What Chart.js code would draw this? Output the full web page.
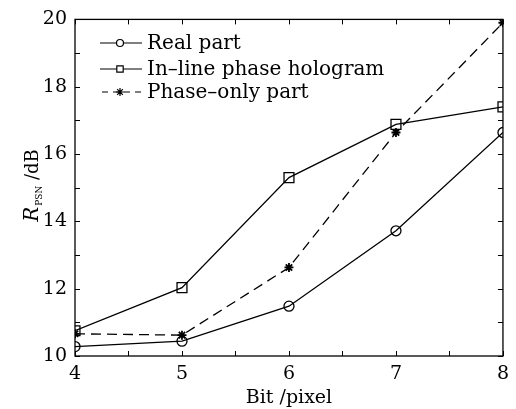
<!DOCTYPE html>
<html>
<head>
<meta charset="utf-8">
<script src="https://cdn.jsdelivr.net/npm/chart.js@4/dist/chart.umd.min.js"></script>
<style>
  html, body { margin: 0; padding: 0; background: #fff; }
  #wrap { width: 516px; height: 409px; }
</style>
</head>
<body>
<div id="wrap"><canvas id="psnChart" width="516" height="409"></canvas></div>
<script>
// values
const bits = [4, 5, 6, 7, 8];
const realPart = [10.28, 10.44, 11.48, 13.72, 16.64];
const inlineHologram = [10.75, 12.03, 15.3, 16.88, 17.4];
const phaseOnly = [10.66, 10.62, 12.63, 16.64, 19.9];
const seriesNames = ["Real part", "In\u2013line phase hologram", "Phase\u2013only part"];

const FONT = "'DejaVu Serif', 'Liberation Serif', serif";

function toPoints(vals) {
  return bits.map((b, i) => ({x: b, y: vals[i]}));
}

// inward ticks on all four sides, minor ticks every 0.5 on x and every 1 on y
const frameTicks = {
  id: "frameTicks",
  afterDatasetsDraw(chart) {
    const {ctx, chartArea: a, scales: {x, y}} = chart;
    ctx.save();
    ctx.strokeStyle = "#000";
    ctx.lineWidth = 1;
    const len = 5;
    for (let v = 4; v <= 8.001; v += 0.5) {
      const px = Math.round(x.getPixelForValue(v)) + 0.5;
      ctx.beginPath();
      ctx.moveTo(px, a.bottom); ctx.lineTo(px, a.bottom - len);
      ctx.moveTo(px, a.top); ctx.lineTo(px, a.top + len);
      ctx.stroke();
    }
    for (let v = 10; v <= 20.001; v += 1) {
      const py = Math.round(y.getPixelForValue(v)) + 0.5;
      ctx.beginPath();
      ctx.moveTo(a.left, py); ctx.lineTo(a.left + len, py);
      ctx.moveTo(a.right, py); ctx.lineTo(a.right - len, py);
      ctx.stroke();
    }
    ctx.lineWidth = 1.3;
    ctx.strokeRect(a.left, a.top, a.right - a.left, a.bottom - a.top);
    ctx.restore();
  }
};

// legend with line + small marker, and the y title with its subscript
const legendMarks = [3.5, 4.5, 4];
const extras = {
  id: "extras",
  afterDraw(chart) {
    const ctx = chart.ctx;
    ctx.save();
    const rows = [43, 69, 92];
    chart.data.datasets.forEach((ds, i) => {
      const yy = rows[i];
      ctx.strokeStyle = "#000";
      ctx.lineWidth = 1.2;
      ctx.setLineDash(ds.borderDash ? [6, 5] : []);
      ctx.beginPath();
      ctx.moveTo(ds.borderDash ? 102 : 100, yy); ctx.lineTo(142, yy);
      ctx.stroke();
      ctx.setLineDash([]);
      ctx.fillStyle = "#fff";
      Chart.helpers.drawPoint(ctx, {
        pointStyle: ds.pointStyle, radius: legendMarks[i], borderWidth: 1.4
      }, 120, yy);
      ctx.fillStyle = "#000";
      ctx.font = "20px " + FONT;
      ctx.textBaseline = "middle";
      ctx.textAlign = "left";
      ctx.fillText(ds.label, 147, yy + 1);
    });

    // y title: R_PSN /dB, rotated
    ctx.translate(30, 186);
    ctx.rotate(-Math.PI / 2);
    ctx.textBaseline = "alphabetic";
    ctx.textAlign = "left";
    ctx.font = "italic 20px " + FONT;
    const w1 = ctx.measureText("R").width;
    ctx.font = "9px " + FONT;
    const w2 = ctx.measureText("PSN").width;
    ctx.font = "18px " + FONT;
    const w3 = ctx.measureText(" /dB").width;
    let sx = -(w1 + w2 + w3) / 2;
    ctx.font = "italic 20px " + FONT;
    ctx.fillText("R", sx, 8);
    sx += w1;
    ctx.font = "9px " + FONT;
    ctx.fillText("PSN", sx + 1, 12);
    sx += w2 + 1;
    ctx.font = "18px " + FONT;
    ctx.fillText(" /dB", sx, 8);
    ctx.restore();
  }
};

const ctx = document.getElementById("psnChart");
const data = {
  datasets: [
    {
      label: seriesNames[0],
      data: toPoints(realPart),
      borderColor: "#000",
      backgroundColor: "rgba(0,0,0,0)",
      borderWidth: 1.3,
      pointStyle: "circle",
      pointRadius: 5,
      pointBorderWidth: 1.3,
      tension: 0,
    },
    {
      label: seriesNames[1],
      data: toPoints(inlineHologram),
      borderColor: "#000",
      backgroundColor: "rgba(0,0,0,0)",
      borderWidth: 1.3,
      pointStyle: "rect",
      pointRadius: 7,
      pointBorderWidth: 1.3,
      tension: 0,
    },
    {
      label: seriesNames[2],
      data: toPoints(phaseOnly),
      borderColor: "#000",
      backgroundColor: "rgba(0,0,0,0)",
      borderWidth: 1.3,
      borderDash: [10, 6],
      pointStyle: "star",
      pointRadius: 4.5,
      pointBorderWidth: 1.8,
      tension: 0,
    },
  ],
};
const options = {
  responsive: false,
  animation: false,
  layout: {padding: {top: 18, right: 11, left: 0, bottom: 0}},
  scales: {
    x: {
      type: "linear",
      min: 4,
      max: 8,
      grid: {display: false, drawTicks: false},
      border: {display: false},
      ticks: {
        stepSize: 1,
        color: "#000",
        padding: 7,
        font: {family: FONT, size: 19},
      },
      title: {
        display: true,
        text: "Bit /pixel",
        color: "#000",
        padding: {top: -1, bottom: 0},
        font: {family: FONT, size: 19},
      },
      afterFit(scale) { scale.height = 53; },
    },
    y: {
      min: 10,
      max: 20,
      grid: {display: false, drawTicks: false},
      border: {display: false},
      ticks: {
        stepSize: 2,
        color: "#000",
        padding: 8,
        font: {family: FONT, size: 19},
      },
      afterFit(scale) { scale.width = 75; },
    },
  },
  plugins: {
    legend: {display: false},
    tooltip: {enabled: false},
  },
};
new Chart(ctx, {type: "line", data: data, options: options, plugins: [frameTicks, extras]});
</script>
</body>
</html>
